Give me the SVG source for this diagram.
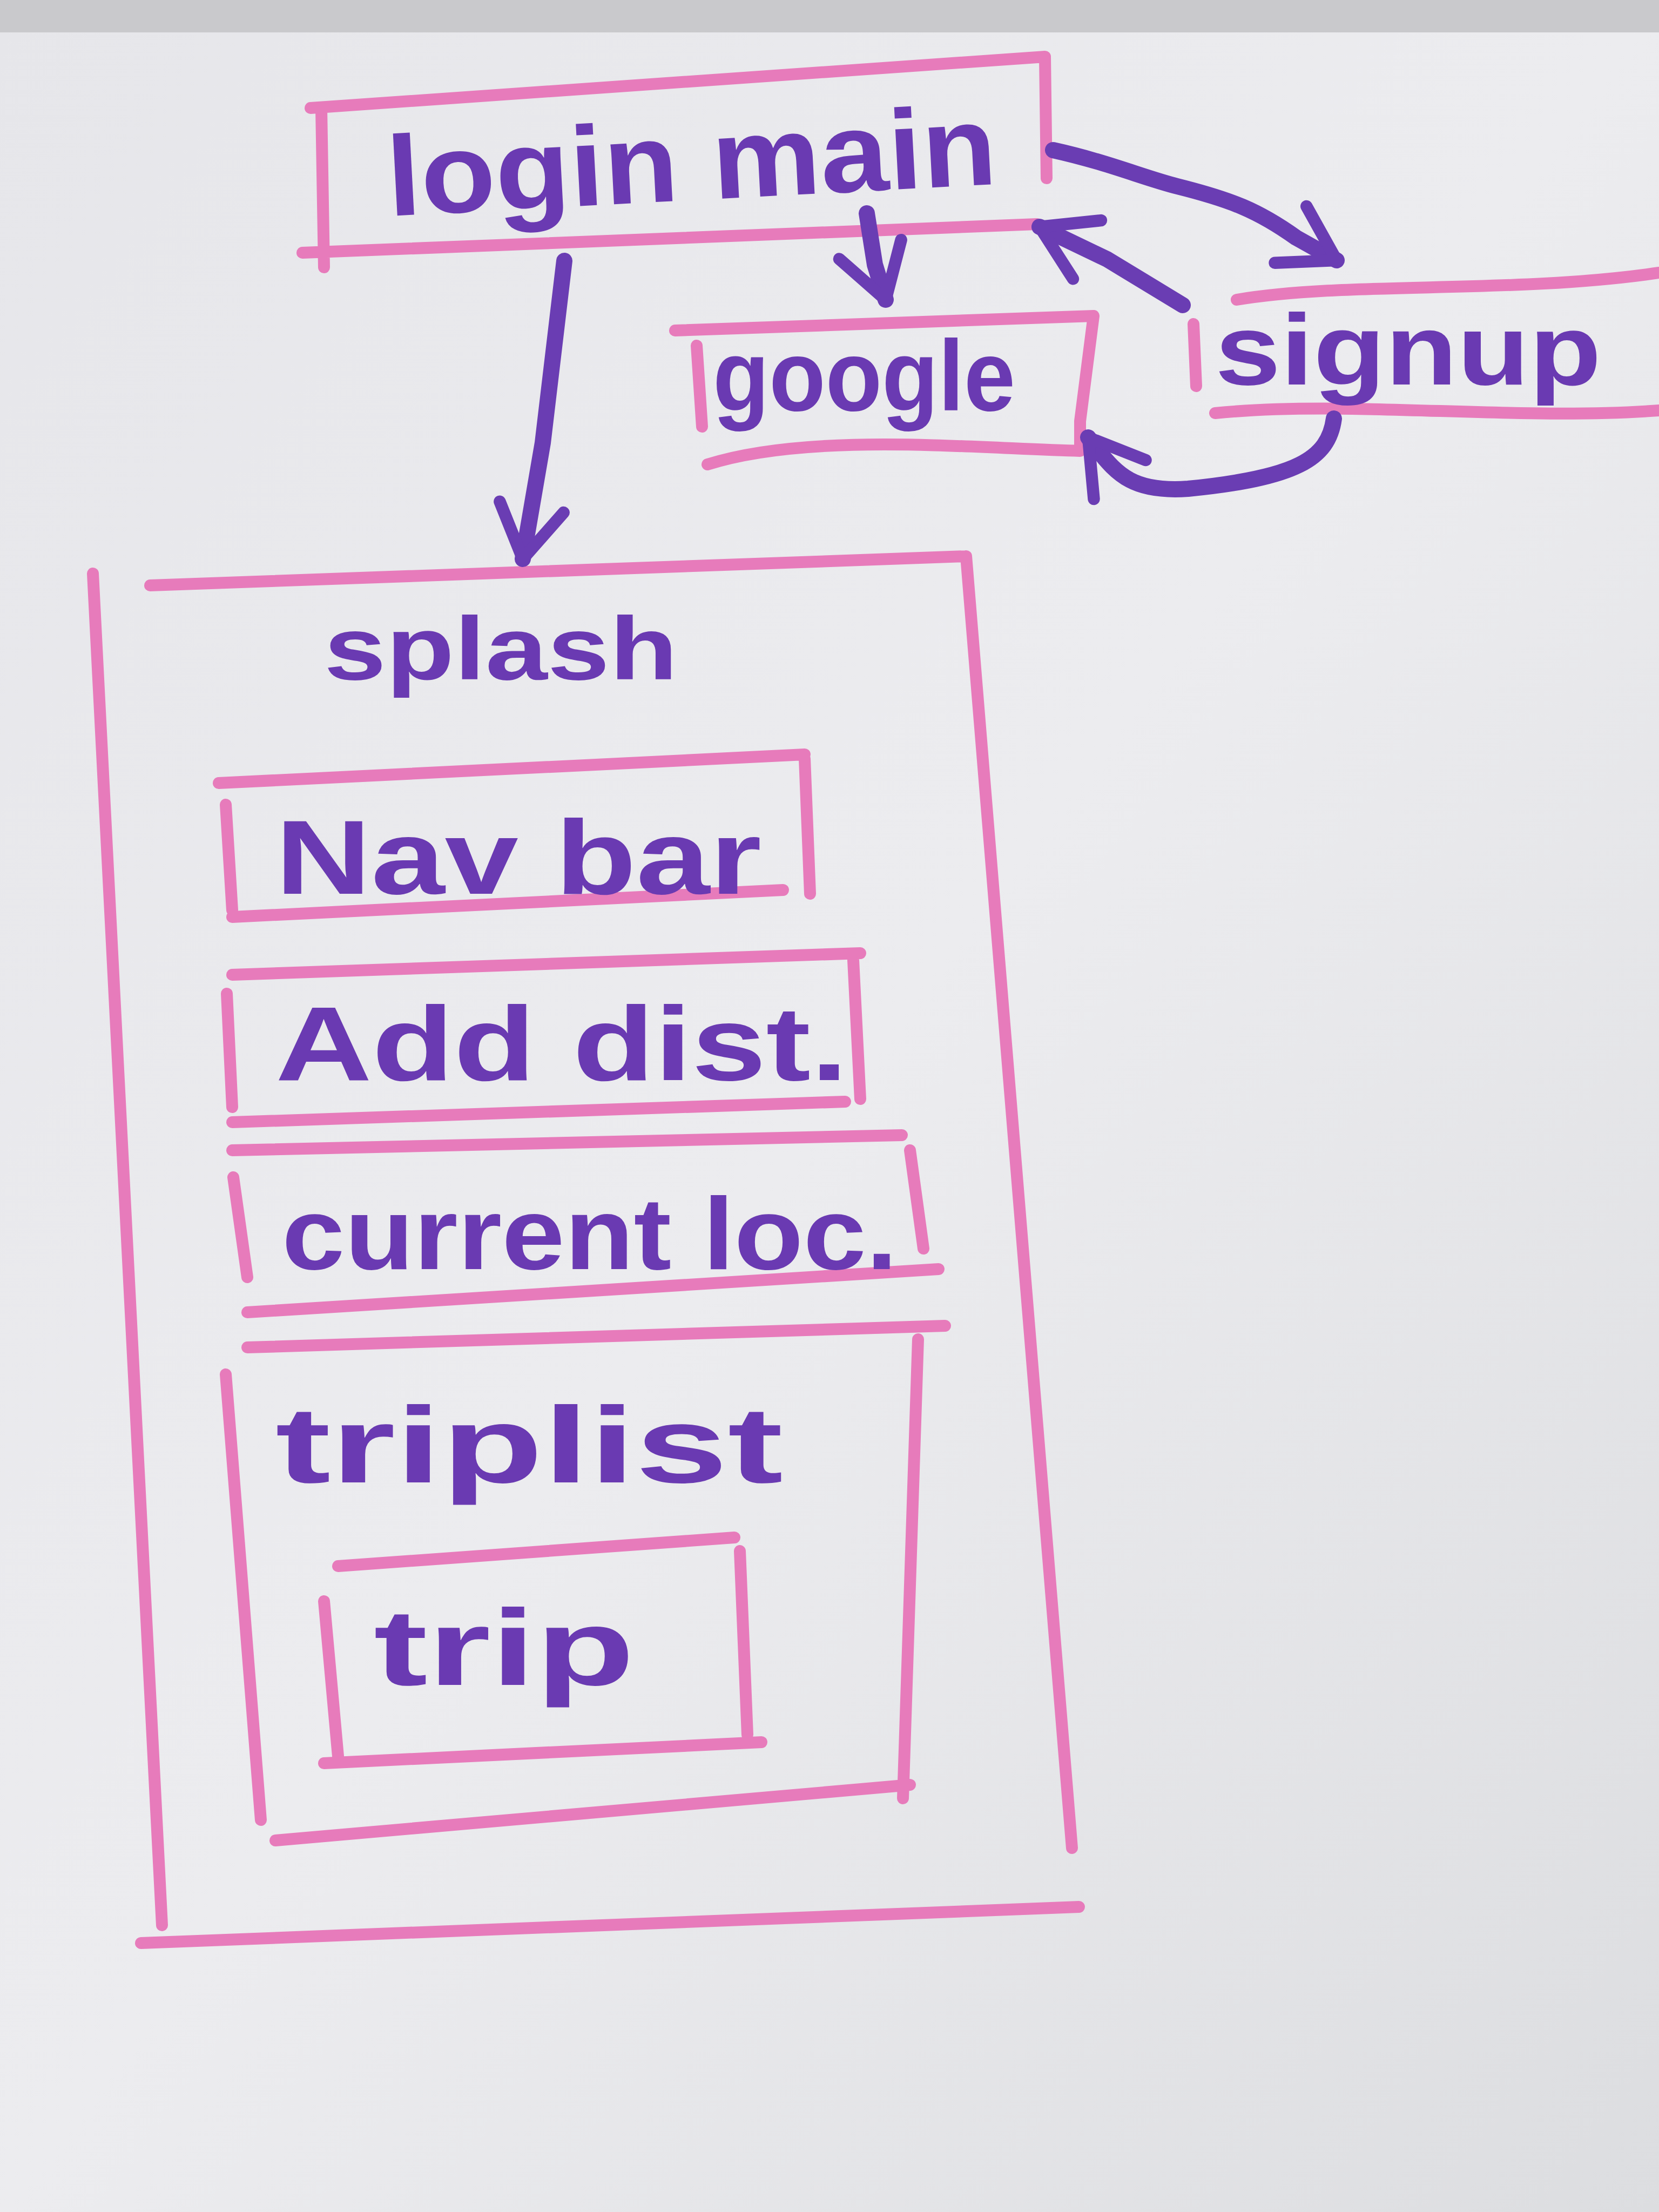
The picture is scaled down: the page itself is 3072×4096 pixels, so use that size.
<svg xmlns="http://www.w3.org/2000/svg" width="3072" height="4096" viewBox="0 0 3072 4096">
<defs>
<linearGradient id="bg" x1="0" y1="0" x2="1" y2="1">
<stop offset="0" stop-color="#e6e6ea"/>
<stop offset="0.5" stop-color="#ececef"/>
<stop offset="1" stop-color="#dcdde0"/>
</linearGradient>
<marker id="arr" viewBox="0 0 20 20" refX="15" refY="10" markerWidth="5" markerHeight="5" orient="auto" markerUnits="strokeWidth">
<path d="M2,2 L15,10 L2,18" fill="none" stroke="#6a3db3" stroke-width="3" stroke-linecap="round" stroke-linejoin="round"/>
</marker>
</defs>
<style>
.box{fill:none;stroke:#e77bbb;stroke-width:22;stroke-linecap:round;stroke-linejoin:round}
.lbl{font-family:"Liberation Sans",Arial,sans-serif;font-weight:bold;fill:#6a3ab2}
.conn{fill:none;stroke:#6a3db3;stroke-width:30;stroke-linecap:round;stroke-linejoin:round}
</style>
<rect x="0" y="0" width="3072" height="4096" fill="url(#bg)"/>
<rect x="0" y="0" width="3072" height="60" fill="#c9c9cc"/>

<g id="login-main">
<path class="box" d="M575,200 L1935,105 M1935,105 L1938,330 M560,468 L1920,415 M595,200 L600,495"/>
<text class="lbl" x="720" y="400" font-size="210" textLength="1130" lengthAdjust="spacingAndGlyphs" transform="rotate(-3 720 400)">login main</text>
</g>

<g id="google">
<path class="box" d="M1250,612 L2025,585 M2025,585 L2000,780 L2000,830 M1310,860 C1500,800 1800,830 2000,835 M1290,640 L1300,790"/>
<text class="lbl" x="1320" y="760" font-size="185" textLength="560" lengthAdjust="spacingAndGlyphs">google</text>
</g>

<g id="signup">
<path class="box" d="M2290,555 C2500,520 2800,545 3072,505 M2210,600 L2215,715 M2250,765 C2500,740 2800,780 3072,760"/>
<text class="lbl" x="2250" y="712" font-size="185" textLength="715" lengthAdjust="spacingAndGlyphs">signup</text>
</g>

<g id="splash">
<path class="box" d="M278,1084 L1789,1030 M1789,1030 L1985,3422 M261,3598 L1998,3531 M172,1062 L300,3565"/>
<text class="lbl" x="600" y="1258" font-size="165" textLength="655" lengthAdjust="spacingAndGlyphs">splash</text>
</g>

<g id="nav-bar">
<path class="box" d="M405,1450 L1490,1397 M1490,1405 L1500,1655 M430,1698 L1450,1648 M418,1490 L430,1685"/>
<text class="lbl" x="510" y="1655" font-size="195" textLength="900" lengthAdjust="spacingAndGlyphs">Nav bar</text>
</g>

<g id="add-dist">
<path class="box" d="M430,1805 L1593,1765 M1580,1778 L1593,2035 M430,2078 L1565,2040 M420,1840 L430,2050"/>
<text class="lbl" x="510" y="2000" font-size="195" textLength="1060" lengthAdjust="spacingAndGlyphs">Add dist.</text>
</g>

<g id="current-loc">
<path class="box" d="M430,2130 L1670,2102 M1685,2130 L1710,2312 M458,2430 L1738,2350 M432,2180 L458,2365"/>
<text class="lbl" x="522" y="2350" font-size="190" textLength="1140" lengthAdjust="spacingAndGlyphs">current loc.</text>
</g>

<g id="triplist">
<path class="box" d="M458,2495 L1750,2455 M1700,2480 L1672,3330 M510,3408 L1685,3305 M418,2545 L483,3370"/>
<text class="lbl" x="510" y="2745" font-size="200" textLength="940" lengthAdjust="spacingAndGlyphs">triplist</text>
</g>

<g id="trip">
<path class="box" d="M626,2900 L1360,2847 M1370,2872 L1384,3212 M600,3265 L1410,3226 M600,2965 L626,3252"/>
<text class="lbl" x="692" y="3120" font-size="200" textLength="483" lengthAdjust="spacingAndGlyphs">trip</text>
</g>

<g id="connectors">
<path class="conn" d="M1045,483 L1005,820 L968,1035" marker-end="url(#arr)"/>
<path class="conn" d="M1605,395 L1620,490 L1640,555" marker-end="url(#arr)"/>
<path class="conn" d="M1950,278 C2050,300 2120,330 2180,345 C2280,370 2330,390 2400,440 L2475,482" marker-end="url(#arr)"/>
<path class="conn" d="M2190,565 L2050,480 L1925,420" marker-end="url(#arr)"/>
<path class="conn" d="M2470,775 C2460,850 2400,885 2200,905 C2100,912 2070,880 2030,830 L2015,810" marker-end="url(#arr)"/>
</g>
</svg>
